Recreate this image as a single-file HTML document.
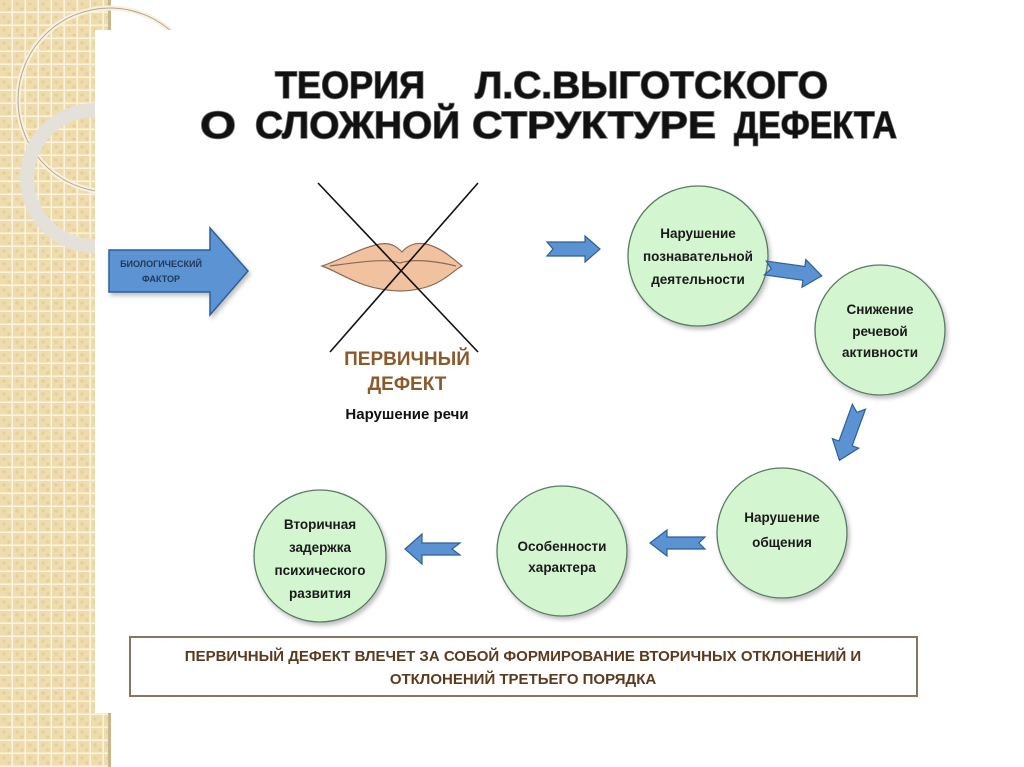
<!DOCTYPE html>
<html><head><meta charset="utf-8"><style>
html,body{margin:0;padding:0;background:#fff;}
svg{display:block;}
text{font-family:"Liberation Sans",sans-serif;}
.c{font-family:"Liberation Sans","DejaVu Sans",sans-serif;font-weight:bold;}
</style></head><body>
<svg width="1024" height="767" viewBox="0 0 1024 767" xmlns="http://www.w3.org/2000/svg">
<defs>
<pattern id="grid" width="13" height="13" patternUnits="userSpaceOnUse">
<rect width="13" height="13" fill="#efdcae"/>
<circle cx="4" cy="4" r="1.6" fill="#e6cf98"/><circle cx="9" cy="9" r="1.6" fill="#e6cf98"/>
<rect x="0" y="11.5" width="13" height="1.5" fill="#fbf3de"/>
<rect x="11.5" y="0" width="1.5" height="13" fill="#fbf3de"/>
</pattern>
<filter id="sh" x="-10%" y="-10%" width="130%" height="130%"><feDropShadow dx="2" dy="3" stdDeviation="2" flood-color="#000" flood-opacity="0.25"/></filter>
</defs>
<rect x="0" y="0" width="111" height="767" fill="url(#grid)"/>
<rect x="108" y="0" width="3" height="767" fill="#c9b68e"/>
<circle cx="110" cy="100" r="92" fill="none" stroke="#f7f1e2" stroke-width="5"/>
<circle cx="110" cy="100" r="92" fill="none" stroke="#b8a680" stroke-width="1"/>
<circle cx="95" cy="178" r="68" fill="none" stroke="#e4e1da" stroke-width="14"/>
<rect x="95" y="30" width="875" height="683" fill="#fff"/>

<g class="c" fill="#111" stroke="#777" stroke-width="1.5" paint-order="stroke" font-size="38">
<text x="275" y="98" textLength="150" lengthAdjust="spacingAndGlyphs">ТЕОРИЯ</text>
<text x="475" y="98" textLength="353" lengthAdjust="spacingAndGlyphs">Л.С.ВЫГОТСКОГО</text>
<text x="200" y="138" textLength="36" lengthAdjust="spacingAndGlyphs">О</text>
<text x="255" y="138" textLength="205" lengthAdjust="spacingAndGlyphs">СЛОЖНОЙ</text>
<text x="472" y="138" textLength="244" lengthAdjust="spacingAndGlyphs">СТРУКТУРЕ</text>
<text x="734" y="138" textLength="163" lengthAdjust="spacingAndGlyphs">ДЕФЕКТА</text>
</g>

<!-- big arrow -->
<polygon points="109,250 210,250 210,228 248,271 210,315 210,292 109,292" fill="#5b93d2" stroke="#2f5f97" stroke-width="1.5" filter="url(#sh)"/>
<text class="c" x="161" y="267" font-size="9" text-anchor="middle" fill="#203a5a">БИОЛОГИЧЕСКИЙ</text>
<text class="c" x="161" y="282" font-size="9" text-anchor="middle" fill="#203a5a">ФАКТОР</text>

<!-- lips -->
<path d="M322,266 C345,258 360,248 380,244 C392,242 398,248 402,252 C407,246 415,242 426,244 C442,248 452,258 462,266 C450,272 440,290 400,291 C360,290 340,272 322,266 Z" fill="#f0c2a0" stroke="#8a6a55" stroke-width="1.2"/>
<path d="M330,266 C360,262 385,258 400,263 C415,258 440,262 456,266" fill="none" stroke="#8a6a55" stroke-width="1.2"/>
<line x1="318" y1="183" x2="478" y2="352" stroke="#111" stroke-width="1.6"/>
<line x1="478" y1="183" x2="330" y2="352" stroke="#111" stroke-width="1.6"/>
<text class="c" x="407" y="365" font-size="19" text-anchor="middle" fill="#8b5a2b">ПЕРВИЧНЫЙ</text>
<text class="c" x="407" y="390" font-size="19" text-anchor="middle" fill="#8b5a2b">ДЕФЕКТ</text>
<text class="c" x="407" y="419" font-size="15" text-anchor="middle" fill="#111">Нарушение речи</text>

<!-- circles -->
<g fill="#d3f5cf" stroke="#5a7a66" stroke-width="1.3" filter="url(#sh)">
<circle cx="698" cy="256" r="70"/>
<circle cx="880" cy="330" r="65"/>
<circle cx="782" cy="533" r="65"/>
<circle cx="562" cy="551" r="65"/>
<circle cx="320" cy="556" r="66"/>
</g>
<g class="c" font-size="13.5" text-anchor="middle" fill="#1a1a1a">
<text x="698" y="238">Нарушение</text><text x="698" y="261">познавательной</text><text x="698" y="284">деятельности</text>
<text x="880" y="314">Снижение</text><text x="880" y="336">речевой</text><text x="880" y="357">активности</text>
<text x="782" y="522">Нарушение</text><text x="782" y="547">общения</text>
<text x="562" y="551">Особенности</text><text x="562" y="572">характера</text>
<text x="320" y="529">Вторичная</text><text x="320" y="552">задержка</text><text x="320" y="575">психического</text><text x="320" y="598">развития</text>
</g>

<!-- small arrows -->
<g fill="#5b93d2" stroke="#2f5f97" stroke-width="1.2">
<polygon points="547,242 585,242 585,236 600,249 585,262 585,256 547,256 553,249"/>
<g transform="translate(794,272) rotate(8)"><polygon points="-29,-7 10,-7 10,-14 28,0 10,14 10,7 -29,7 -23,0"/></g>
<g transform="translate(849,434) rotate(110)"><polygon points="-29,-7 10,-7 10,-14 28,0 10,14 10,7 -29,7 -23,0"/></g>
<polygon points="705,537 667,537 667,530 650,543 667,556 667,549 705,549 699,543"/>
<polygon points="460,543 422,543 422,534 405,549 422,564 422,555 460,555 452,549"/>
</g>

<!-- bottom box -->
<rect x="130" y="637" width="787" height="59" fill="#fff" stroke="#8a7560" stroke-width="2"/>
<g class="c" font-size="15" text-anchor="middle" fill="#5b3a1e">
<text x="523" y="661">ПЕРВИЧНЫЙ ДЕФЕКТ ВЛЕЧЕТ ЗА СОБОЙ ФОРМИРОВАНИЕ ВТОРИЧНЫХ ОТКЛОНЕНИЙ И</text>
<text x="523" y="684">ОТКЛОНЕНИЙ ТРЕТЬЕГО ПОРЯДКА</text>
</g>
</svg>
</body></html>
